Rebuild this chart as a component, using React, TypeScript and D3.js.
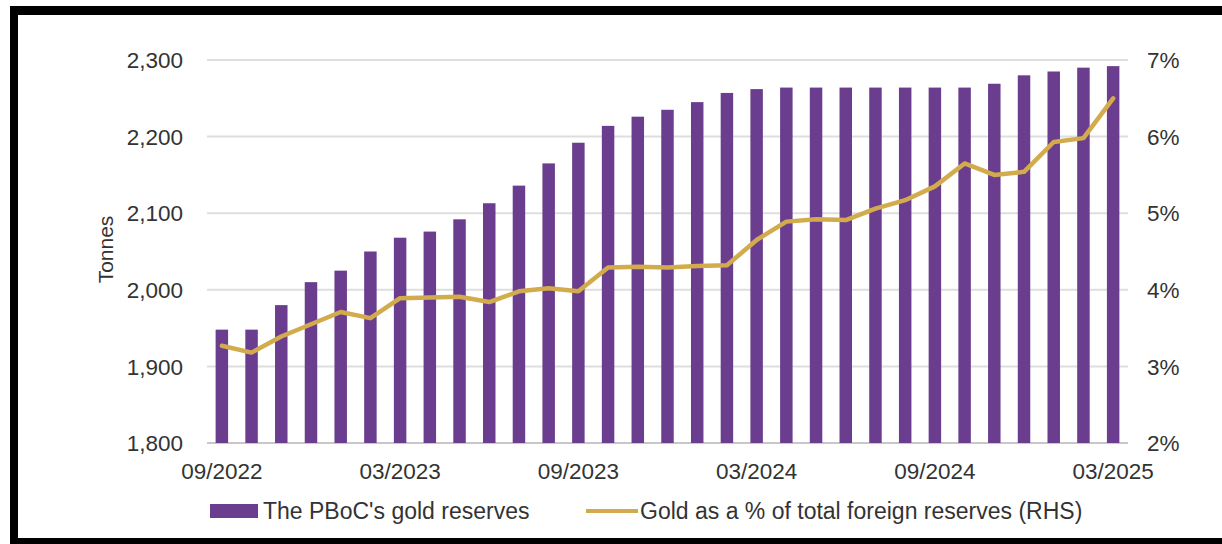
import React from "react";
import * as d3 from "d3";

const months = [
  "09/2022","10/2022","11/2022","12/2022","01/2023","02/2023","03/2023","04/2023","05/2023","06/2023",
  "07/2023","08/2023","09/2023","10/2023","11/2023","12/2023","01/2024","02/2024","03/2024","04/2024",
  "05/2024","06/2024","07/2024","08/2024","09/2024","10/2024","11/2024","12/2024","01/2025","02/2025","03/2025",
];
const goldTonnes = [
  1948, 1948, 1980, 2010, 2025, 2050, 2068, 2076, 2092, 2113,
  2136, 2165, 2192, 2214, 2226, 2235, 2245, 2257, 2262, 2264,
  2264, 2264, 2264, 2264, 2264, 2264, 2269, 2280, 2285, 2290, 2292,
];
const goldPct = [
  3.27, 3.18, 3.39, 3.55, 3.71, 3.63, 3.89, 3.90, 3.91, 3.84,
  3.98, 4.02, 3.98, 4.29, 4.30, 4.29, 4.31, 4.32, 4.65, 4.89,
  4.92, 4.91, 5.06, 5.17, 5.35, 5.65, 5.50, 5.54, 5.93, 5.98, 6.50,
];
const leftTicks = [1800, 1900, 2000, 2100, 2200, 2300];
const rightTicks = [2, 3, 4, 5, 6, 7];
const xTickLabels = ["09/2022", "03/2023", "09/2023", "03/2024", "09/2024", "03/2025"];
const seriesNames = ["The PBoC's gold reserves", "Gold as a % of total foreign reserves (RHS)"];

const PURPLE = "#6a3d8e";
const GOLD = "#d2ac4c";
const TEXT = "#333333";
const FONT = "'Liberation Sans', Arial, sans-serif";

export default function App() {
  const W = 1222, H = 544;
  const left = 207, right = 1128, top = 60, bottom = 443;

  const x = d3.scaleBand<string>().domain(months).range([left, right]).paddingInner(0.58).paddingOuter(0.29);
  const yL = d3.scaleLinear().domain([1800, 2300]).range([bottom, top]);
  const yR = d3.scaleLinear().domain([2, 7]).range([bottom, top]);
  const cx = (m: string) => (x(m) ?? 0) + x.bandwidth() / 2;

  const line = d3
    .line<number>()
    .x((_, i) => cx(months[i]))
    .y((d) => yR(d));

  return (
    <svg width={W} height={H} style={{ position: "absolute", left: 0, top: 0, background: "#fff" }}>
      <rect x={0} y={0} width={W} height={H} fill="#fff" />
      {/* frame */}
      <rect x={10} y={6} width={W - 10} height={9} fill="#000" />
      <rect x={10} y={6} width={8} height={H - 6} fill="#000" />
      <rect x={10} y={538} width={W - 10} height={6} fill="#000" />

      {/* gridlines */}
      {leftTicks.map((t) => (
        <line key={t} x1={left} x2={right} y1={yL(t)} y2={yL(t)} stroke={t === 1800 ? "#c8c8c8" : "#dedede"} strokeWidth={2} />
      ))}

      {/* bars */}
      {goldTonnes.map((v, i) => (
        <rect
          key={months[i]}
          x={x(months[i])}
          y={yL(v)}
          width={x.bandwidth()}
          height={yL(1800) - yL(v)}
          fill={PURPLE}
        />
      ))}

      {/* line */}
      <path d={line(goldPct) ?? ""} fill="none" stroke={GOLD} strokeWidth={4.5} strokeLinejoin="round" strokeLinecap="round" />

      {/* left axis */}
      {leftTicks.map((t) => (
        <text key={t} x={183} y={yL(t)} dy="0.36em" textAnchor="end" fontFamily={FONT} fontSize={22.5} fill={TEXT}>
          {d3.format(",")(t)}
        </text>
      ))}
      <text
        transform={`translate(113, ${(top + bottom) / 2 - 2}) rotate(-90)`}
        textAnchor="middle"
        fontFamily={FONT}
        fontSize={21}
        fill={TEXT}
      >
        Tonnes
      </text>

      {/* right axis */}
      {rightTicks.map((t) => (
        <text key={t} x={1147} y={yR(t)} dy="0.36em" textAnchor="start" fontFamily={FONT} fontSize={22.5} fill={TEXT}>
          {t}%
        </text>
      ))}

      {/* x axis labels */}
      {xTickLabels.map((lab) => (
        <text key={lab} x={cx(lab)} y={479} textAnchor="middle" fontFamily={FONT} fontSize={22.5} fill={TEXT}>
          {lab}
        </text>
      ))}

      {/* legend */}
      <rect x={210} y={504} width={48} height={14} fill={PURPLE} />
      <text x={263} y={519} fontFamily={FONT} fontSize={23} fill={TEXT}>
        {seriesNames[0]}
      </text>
      <line x1={586} x2={638} y1={511} y2={511} stroke={GOLD} strokeWidth={4} />
      <text x={640} y={519} fontFamily={FONT} fontSize={23} fill={TEXT}>
        {seriesNames[1]}
      </text>
    </svg>
  );
}
